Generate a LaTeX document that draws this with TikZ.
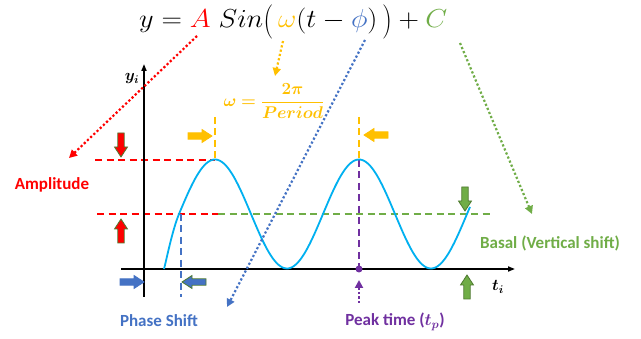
\RequirePackage{fix-cm}
\documentclass[tikz,border=0pt]{standalone}
\usepackage{amsmath}
\usepackage{graphicx}
\usepackage[no-math]{fontspec}
\setmainfont{Carlito}
\usetikzlibrary{arrows.meta}
\definecolor{cred}{HTML}{FF0000}
\definecolor{cgold}{HTML}{FFC000}
\definecolor{cblue}{HTML}{4472C4}
\definecolor{cgreen}{HTML}{70AD47}
\definecolor{cpurple}{HTML}{7030A0}
\definecolor{ccyan}{HTML}{00B0F0}
\definecolor{cdkgreen}{HTML}{4E7A30}
\newcommand\eqlp{\mathopen{\raisebox{-2.5pt}{\scalebox{1}[1.32]{$($}}}}
\newcommand\eqrp{\mathclose{\raisebox{-2.5pt}{\scalebox{1}[1.32]{$)$}}}}
\begin{document}
\begin{tikzpicture}[x=1pt,y=-1pt,
  axisline/.style={line width=1.6pt,-{Triangle[length=7pt,width=5pt]}},
  guide/.style={line width=1.5pt,dash pattern=on 7pt off 4.5pt},
  pointer/.style={line width=2.2pt,dash pattern=on 2.2pt off 2.2pt,-{Triangle[length=8pt,width=8pt]}},
  curve/.style={ccyan,line width=1.8pt},
  lbl/.style={font=\fontsize{17}{20}\selectfont\bfseries,inner sep=0pt},
  blockarrow/.pic={\path[pic actions] (0,-3.2) -- (14,-3.2) -- (14,-6.5) -- (24,0) -- (14,6.5) -- (14,3.2) -- (0,3.2) -- cycle;}
]
\useasboundingbox[fill=white] (0,0) rectangle (641,339);

% equation
\node[anchor=base west,inner sep=0pt] (eq) at (139,28)
  {\fontsize{26}{29}\selectfont\scalebox{1.09}[1]{$y = {\color{cred}A}\;Sin\eqlp\,{\color{cgold}\omega}(t-{\color{cblue}\phi})\,\eqrp+{\color{cgreen}C}$}};

% guides
\draw[guide,cred] (95,160) -- (215,160);
\draw[guide,cred] (97,214) -- (218,214);
\draw[guide,cgreen] (218,214) -- (493,214);
\draw[guide,cgold] (215,117) -- (215,160);
\draw[guide,cgold] (359,117) -- (359,160);
\draw[guide,cpurple] (359,160) -- (359,269);
\draw[guide,cblue] (181,214) -- (181,297);

% axes
\coordinate (ybot) at (144,297);
\coordinate (ytop) at (144,64);
\coordinate (xl) at (121,269);
\coordinate (xr) at (515,269);
\draw[axisline] (ybot) -- (ytop);
\draw[axisline] (xl) -- (xr);
\node[inner sep=0pt,font=\fontsize{16}{19}\selectfont] (ylab) at (132,79) {$\boldsymbol{y_i}$};
\node[inner sep=0pt,font=\fontsize{16}{19}\selectfont] (tlab) at (498,287) {$\boldsymbol{t_i}$};

% curve
\draw[curve] (164,269) .. controls (166,262) and (172,231) .. (179,214)
  -- plot[domain=179:470,samples=150] (\x,{214-54.5*sin(2.5*(\x-179))});

\node[circle,fill=cpurple,inner sep=0pt,minimum size=7pt] (pk) at (359,269) {};

% omega
\node[inner sep=0pt,text=cgold,font=\fontsize{17}{21}\selectfont] (om) at (274,101)
  {$\boldsymbol{\omega}\boldsymbol{=}\dfrac{\boldsymbol{2\pi}}{\boldsymbol{Period}}$};

% block arrows
\pic[fill=cred,draw=cdkgreen,line width=0.8pt,rotate=-90] at (121,133) {blockarrow};
\pic[fill=cred,draw=cdkgreen,line width=0.8pt,rotate=90] at (121,243) {blockarrow};
\pic[fill=cgold,draw=cgold,line width=0.8pt] at (188,136) {blockarrow};
\pic[fill=cgold,draw=cgold,line width=0.8pt,rotate=180] at (388,135) {blockarrow};
\pic[fill=cblue,draw=cblue,line width=0.8pt] at (120,282) {blockarrow};
\pic[fill=cblue,draw=cdkgreen,line width=0.8pt,rotate=180] at (206,282) {blockarrow};
\pic[fill=cgreen,draw=cdkgreen,line width=0.8pt,rotate=-90] at (465,187) {blockarrow};
\pic[fill=cgreen,draw=cdkgreen,line width=0.8pt,rotate=90] at (467,299) {blockarrow};

% labels
\node[lbl,text=cred] (amp) at (52,185) {Amplitude};
\node[lbl,text=cblue] (ph) at (159,321) {Phase Shift};
\node[lbl,text=cpurple] (pt) at (395,322) {Peak time ($\boldsymbol{t_p}$)};
\node[lbl,text=cgreen] (bs) at (550,243) {Basal (Vertical shift)};

% pointers
\coordinate (rA) at (197,36);  \coordinate (rB) at (69,158);
\coordinate (gA) at (283,41);  \coordinate (gB) at (275,76);
\coordinate (bA) at (365,40);  \coordinate (bB) at (227,307);
\coordinate (nA) at (460,43);  \coordinate (nB) at (532,214);
\coordinate (pA) at (359,303); \coordinate (pB) at (359,280);
\draw[pointer,cred] (rA) -- (rB);
\draw[pointer,cgold] (gA) -- (gB);
\draw[pointer,cblue] (bA) -- (bB);
\draw[pointer,cgreen] (nA) -- (nB);
\draw[pointer,cpurple] (pA) -- (pB);
\end{tikzpicture}
\end{document}
